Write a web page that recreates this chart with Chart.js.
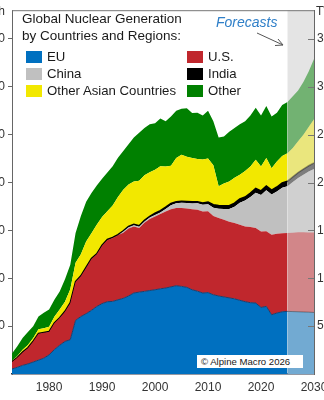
<!DOCTYPE html>
<html>
<head>
<meta charset="utf-8">
<title>Global Nuclear Generation</title>
<script src="https://cdn.jsdelivr.net/npm/chart.js@4.4.1/dist/chart.umd.min.js"></script>
<style>
  html, body { margin: 0; padding: 0; background: #fff; }
  #wrap {
    position: relative; width: 324px; height: 400px; overflow: hidden;
    font-family: Arial, "Liberation Sans", sans-serif; color: #1a1a1a;
  }
  #nuclearChart { position: absolute; left: -30px; top: 0; }
  .unit { position: absolute; top: 4px; font-size: 12px; color: #333; }
  #legendTitle { position: absolute; left: 22px; top: 10px; font-size: 13.5px; line-height: 17px; }
  .item { position: absolute; font-size: 13.2px; line-height: 16px; white-space: nowrap; }
  .item i { position: absolute; left: -21px; top: 2px; width: 16px; height: 12px; }
  #forecastLabel { position: absolute; left: 216px; top: 14px; font-size: 14px; font-style: italic; color: #2f7fc8; }
  #arrow { position: absolute; left: 0; top: 0; }
  #credit {
    position: absolute; left: 197px; top: 355px; width: 106px; height: 13px;
    background: #fff; font-size: 9.6px; line-height: 13px; text-indent: 4px; white-space: nowrap;
  }
</style>
</head>
<body>
<div id="wrap">
  <canvas id="nuclearChart" width="384" height="400"></canvas>
  <div class="unit" style="right:319px">TWh</div>
  <div class="unit" style="left:316px">TWh</div>
  <div id="legendTitle">Global Nuclear Generation<br>by Countries and Regions:</div>
  <div id="legend"></div>
  <div id="forecastLabel">Forecasts</div>
  <svg id="arrow" width="324" height="60">
    <line x1="257" y1="33" x2="283" y2="45" stroke="#555" stroke-width="1"/>
    <polyline points="275,45.5 283,45 278,39" fill="none" stroke="#555" stroke-width="1"/>
  </svg>
  <div id="credit">© Alpine Macro 2026</div>
</div>
<script>
// Nuclear generation by region, TWh per year (2026-2030 are forecasts)
const years = [
  1973, 1974, 1975, 1976, 1977, 1978, 1979, 1980, 1981, 1982,
  1983, 1984, 1985, 1986, 1987, 1988, 1989, 1990, 1991, 1992,
  1993, 1994, 1995, 1996, 1997, 1998, 1999, 2000, 2001, 2002,
  2003, 2004, 2005, 2006, 2007, 2008, 2009, 2010, 2011, 2012,
  2013, 2014, 2015, 2016, 2017, 2018, 2019, 2020, 2021, 2022,
  2023, 2024, 2025, 2026, 2027, 2028, 2029, 2030
];
const euGen = [
  52, 70, 90, 105, 125, 145, 165, 200, 255, 300,
  340, 358, 560, 600, 630, 665, 705, 735, 755, 758,
  775, 790, 815, 846, 855, 863, 872, 880, 890, 898,
  910, 922, 915, 905, 880, 865, 846, 850, 828, 815,
  805, 795, 785, 770, 755, 745, 741, 695, 706, 619,
  637, 650, 654, 652, 650, 648, 646, 643
];
const usGen = [
  73, 100, 135, 165, 215, 275, 265, 240, 275, 285,
  310, 382, 400, 420, 480, 535, 545, 605, 645, 662,
  675, 685, 705, 695, 670, 717, 748, 765, 780, 800,
  810, 811, 820, 825, 840, 850, 852, 850, 822, 814,
  806, 795, 791, 790, 786, 790, 783, 794, 784, 835,
  828, 820, 818, 824, 830, 832, 833, 835
];
const chinaGen = [
  0, 0, 0, 0, 0, 0, 0, 0, 0, 0,
  0, 0, 0, 0, 0, 0, 0, 0, 0, 0,
  0, 13, 13, 14, 14, 14, 15, 17, 18, 25,
  43, 50, 53, 55, 62, 68, 70, 74, 87, 97,
  112, 133, 171, 230, 270, 315, 370, 380, 430, 420,
  440, 475, 490, 530, 568, 602, 636, 664
];
const indiaGen = [
  2, 2, 3, 3, 3, 3, 3, 3, 3, 3,
  4, 4, 5, 5, 5, 6, 5, 6, 6, 7,
  5, 6, 8, 9, 10, 11, 12, 17, 18, 19,
  17, 17, 17, 17, 17, 15, 17, 21, 30, 33,
  34, 34, 37, 38, 37, 39, 45, 43, 44, 46,
  48, 50, 52, 54, 56, 58, 60, 63
];
const otherAsiaGen = [
  10, 15, 25, 30, 32, 45, 45, 50, 65, 85,
  100, 140, 198, 225, 270, 265, 305, 294, 294, 333,
  395, 430, 439, 447, 470, 470, 460, 454, 464, 426,
  395, 455, 485, 468, 456, 447, 455, 455, 413, 201,
  233, 254, 266, 253, 272, 279, 298, 256, 291, 230,
  267, 283, 293, 300, 326, 360, 405, 455
];
const otherGen = [
  78, 103, 123, 137, 123, 132, 162, 182, 178, 190,
  236, 257, 309, 400, 415, 419, 410, 400, 405, 410,
  410, 406, 420, 459, 500, 495, 503, 487, 500, 472,
  515, 495, 480, 505, 470, 485, 460, 500, 460, 510,
  490, 519, 520, 529, 520, 532, 543, 532, 545, 540,
  510, 532, 533, 540, 530, 550, 580, 630
];
const yearTicks = [1980, 1990, 2000, 2010, 2020, 2030];
const twhTicks = [500, 1000, 1500, 2000, 2500, 3000, 3500];
const forecastFrom = 2025;

// series in stacking order, bottom to top
const series = [
  { name: 'EU', values: euGen, color: '#0070c0', light: 'rgba(0,112,192,0.5)', line: '#1d3f6e', width: 1 },
  { name: 'U.S.', values: usGen, color: '#c0272d', light: 'rgba(192,39,45,0.5)' },
  { name: 'China', values: chinaGen, color: '#c0c0c0', light: 'rgba(192,192,192,0.55)' },
  { name: 'India', values: indiaGen, color: '#000000', light: 'rgba(0,0,0,0.45)', line: '#000', width: 1.6 },
  { name: 'Other Asian Countries', values: otherAsiaGen, color: '#f2e800', light: 'rgba(242,232,0,0.45)' },
  { name: 'Other', values: otherGen, color: '#008000', light: 'rgba(0,128,0,0.5)' }
];

// legend rows: [series index, left, top]
const legendSlots = [[0, 47, 49], [2, 47, 66], [4, 47, 83], [1, 208, 49], [3, 208, 66], [5, 208, 83]];
const legendBox = document.getElementById('legend');
legendSlots.forEach(([i, left, top]) => {
  const el = document.createElement('div');
  el.className = 'item';
  el.style.left = left + 'px';
  el.style.top = top + 'px';
  el.innerHTML = '<i style="background:' + series[i].color + '"></i>' + series[i].name;
  legendBox.appendChild(el);
});

const isForecast = c => c.p0.parsed.x >= forecastFrom;

const datasets = series.map((s, i) => ({
  label: s.name,
  data: years.map((yr, k) => ({ x: yr, y: s.values[k] })),
  backgroundColor: s.color,
  borderColor: s.line || 'transparent',
  borderWidth: s.width || 0,
  fill: i === 0 ? 'origin' : '-1',
  pointRadius: 0,
  tension: 0,
  segment: {
    backgroundColor: c => isForecast(c) ? s.light : undefined,
    borderColor: c => (isForecast(c) && s.line) ? 'rgba(0,0,0,0.35)' : undefined
  }
}));

// grey band behind the forecast years
const forecastShade = {
  id: 'forecastShade',
  beforeDatasetsDraw(chart) {
    const { ctx, chartArea: a, scales: { x } } = chart;
    const x0 = x.getPixelForValue(forecastFrom);
    ctx.save();
    ctx.fillStyle = '#e4e4e4';
    ctx.fillRect(x0, a.top, a.right - x0, a.bottom - a.top);
    ctx.restore();
  }
};

// top edge of the frame and inward ticks on the right axis
const frame = {
  id: 'frame',
  afterDraw(chart) {
    const { ctx, chartArea: a, scales: { y2 } } = chart;
    ctx.save();
    ctx.strokeStyle = '#777';
    ctx.lineWidth = 1;
    ctx.beginPath();
    ctx.moveTo(a.left, a.top + 0.5);
    ctx.lineTo(a.right, a.top + 0.5);
    twhTicks.forEach(v => {
      const py = Math.round(y2.getPixelForValue(v)) + 0.5;
      ctx.moveTo(a.right - 6, py);
      ctx.lineTo(a.right, py);
    });
    ctx.stroke();
    ctx.restore();
  }
};

const tickFont = { family: 'Arial, "Liberation Sans", sans-serif', size: 12 };
const useTicks = list => scale => { scale.ticks = list.map(v => ({ value: v })); };

new Chart(document.getElementById('nuclearChart'), {
  type: 'line',
  data: { datasets },
  options: {
    responsive: false,
    animation: false,
    devicePixelRatio: 1,
    layout: { padding: { top: 10, left: 0, right: 0, bottom: 0 } },
    scales: {
      x: {
        type: 'linear',
        min: 1973,
        max: 2030,
        grid: { display: false, drawTicks: false },
        border: { color: '#2b3346', width: 1.5 },
        ticks: { font: tickFont, color: '#333', padding: 6, maxRotation: 0, callback: v => String(v) },
        afterBuildTicks: useTicks(yearTicks),
        afterFit: s => { s.height = 26; }
      },
      y: {
        stacked: true,
        position: 'left',
        min: 0,
        max: 3800,
        grid: { drawOnChartArea: false, tickLength: 4, color: '#666' },
        border: { color: '#666' },
        ticks: { font: tickFont, color: '#333', padding: 3 },
        afterBuildTicks: useTicks(twhTicks),
        afterFit: s => { s.width = 42; }
      },
      y2: {
        position: 'right',
        min: 0,
        max: 3800,
        grid: { display: false, drawTicks: false },
        border: { color: '#666' },
        ticks: { font: tickFont, color: '#333', padding: 3 },
        afterBuildTicks: useTicks(twhTicks),
        afterFit: s => { s.width = 40; }
      }
    },
    plugins: {
      legend: { display: false },
      tooltip: { enabled: false }
    }
  },
  plugins: [forecastShade, frame]
});
</script>
</body>
</html>
